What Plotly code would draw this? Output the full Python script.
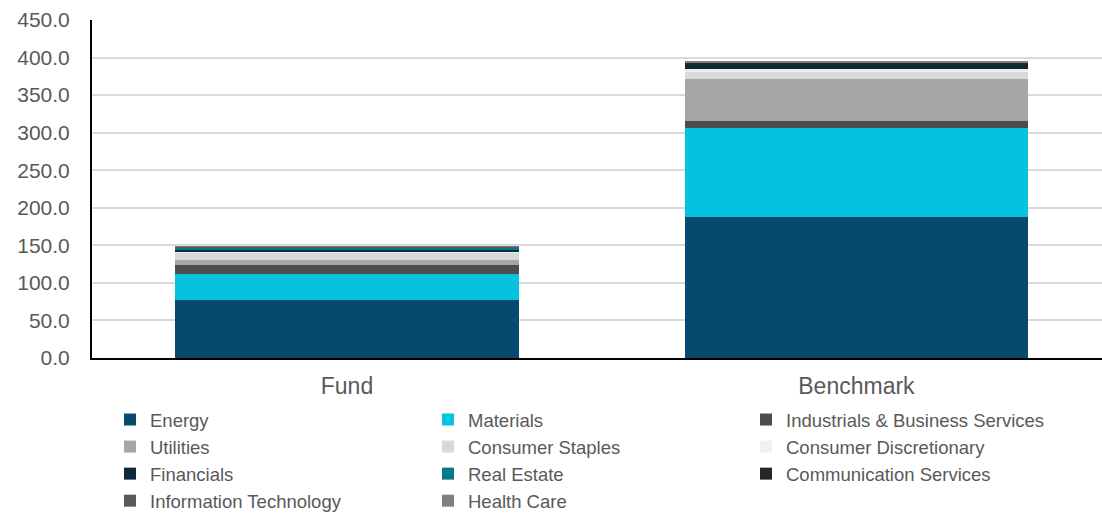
import plotly.graph_objects as go

categories = ["Fund", "Benchmark"]

sectors = [
    "Energy", "Materials", "Industrials & Business Services",
    "Utilities", "Consumer Staples", "Consumer Discretionary",
    "Financials", "Real Estate", "Communication Services",
    "Information Technology", "Health Care",
]

energy = [77.6, 187.7]
materials = [34.1, 118.7]
industrials = [12.0, 8.9]
utilities = [7.2, 55.7]
consumer_staples = [9.0, 10.0]
consumer_discretionary = [1.5, 3.5]
financials = [2.5, 5.8]
real_estate = [3.0, 0.8]
communication_services = [0.6, 2.3]
information_technology = [0.8, 0.5]
health_care = [0.7, 0.5]

series_values = [
    energy, materials, industrials, utilities, consumer_staples,
    consumer_discretionary, financials, real_estate,
    communication_services, information_technology, health_care,
]

colors = [
    "#074a6e", "#05c3de", "#4d4d4d", "#a6a6a6", "#d9d9d9", "#f0f0f0",
    "#0b2a3c", "#047a86", "#262626", "#595959", "#7f7f7f",
]

y_tick_values = [0, 50, 100, 150, 200, 250, 300, 350, 400, 450]

FONT = "Liberation Sans, Arial, sans-serif"
TEXT = "#595959"

fig = go.Figure()
for name, vals, col in zip(sectors, series_values, colors):
    fig.add_trace(go.Bar(
        x=categories, y=vals, name=name,
        marker=dict(color=col, line=dict(width=0)),
        width=0.675,
    ))

fig.update_layout(
    barmode="stack",
    width=1102, height=514,
    margin=dict(l=92, r=0, t=20, b=156),
    plot_bgcolor="white", paper_bgcolor="white",
    font=dict(family=FONT, color=TEXT),
    legend=dict(
        orientation="h",
        xref="container", yref="container",
        x=110 / 1102, xanchor="left",
        y=1 - 401 / 514, yanchor="top",
        font=dict(size=18.5, color=TEXT, family=FONT),
        entrywidth=273, entrywidthmode="pixels",
        traceorder="normal",
        bgcolor="rgba(0,0,0,0)",
        itemclick=False,
    ),
    xaxis=dict(
        type="category",
        range=[-0.5005, 1.482],
        showline=True, linecolor="black", linewidth=2,
        ticks="", showgrid=False,
        tickfont=dict(size=23, color=TEXT, family=FONT),
        ticklabelstandoff=6,
    ),
    yaxis=dict(
        range=[0, 450],
        tickvals=y_tick_values,
        tickformat=".1f",
        showline=True, linecolor="black", linewidth=2,
        showgrid=True, gridcolor="#d9d9d9", gridwidth=1.5,
        ticks="", zeroline=False,
        tickfont=dict(size=21, color=TEXT, family=FONT),
        ticklabelstandoff=16,
    ),
)

fig.write_html("out.html")
